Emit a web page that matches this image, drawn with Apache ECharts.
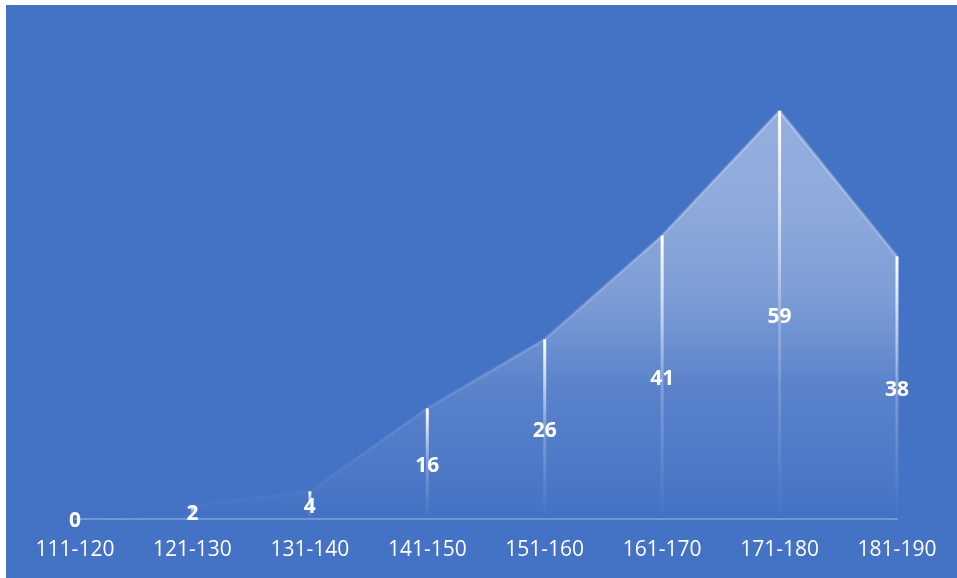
<!DOCTYPE html>
<html><head><meta charset="utf-8">
<script src="https://cdn.jsdelivr.net/npm/echarts@6/dist/echarts.min.js"></script>
<style>html,body{margin:0;padding:0;background:#fff;}#c{position:absolute;left:6px;top:5px;width:951px;height:573px;}</style>
</head><body><div id="c"></div>
<script>
const categories = ['111-120','121-130','131-140','141-150','151-160','161-170','171-180','181-190'];
const values = [0, 2, 4, 16, 26, 41, 59, 38];

const chart = echarts.init(document.getElementById('c'));
chart.setOption({
  backgroundColor: '#4472C4',
  animation: false,
  grid: { left: 69, right: 60, top: 30, bottom: 59 },
  xAxis: {
    type: 'category', data: categories, boundaryGap: false,
    axisLine: { lineStyle: { color: 'rgba(255,255,255,0.25)', width: 2 } },
    axisTick: { show: false },
    axisLabel: { color: '#fff', fontSize: 21, fontFamily: 'Open Sans', margin: 21 }
  },
  yAxis: { type: 'value', min: 0, max: 70, show: false, splitLine: { show: false } },
  series: [
    {
      type: 'line', data: values, symbol: 'none', z: 1,
      lineStyle: {
        width: 3,
        color: { type: 'linear', x: 0, y: 0, x2: 0, y2: 1, colorStops: [
          { offset: 0, color: 'rgba(255,255,255,0.3)' },
          { offset: 0.6, color: 'rgba(255,255,255,0.15)' },
          { offset: 1, color: 'rgba(255,255,255,0.0)' }
        ] }
      },
      areaStyle: {
        color: { type: 'linear', x: 0, y: 0, x2: 0, y2: 1, colorStops: [
          { offset: 0, color: 'rgba(255,255,255,0.62)' },
          { offset: 0.25, color: 'rgba(255,255,255,0.56)' },
          { offset: 0.46, color: 'rgba(255,255,255,0.43)' },
          { offset: 0.68, color: 'rgba(255,255,255,0.17)' },
          { offset: 1, color: 'rgba(255,255,255,0.0)' }
        ] }
      }
    },
    {
      type: 'bar', data: values, barWidth: 3, z: 3,
      itemStyle: {
        color: { type: 'linear', x: 0, y: 0, x2: 0, y2: 1, colorStops: [
          { offset: 0, color: 'rgba(255,255,255,1)' },
          { offset: 0.5, color: 'rgba(255,255,255,0.25)' },
          { offset: 1, color: 'rgba(255,255,255,0)' }
        ] }
      },
      label: { show: true, position: 'inside', offset: [0, 2], color: '#fff', fontSize: 21, fontWeight: 'bold', fontFamily: 'Open Sans' }
    }
  ]
});
</script></body></html>
